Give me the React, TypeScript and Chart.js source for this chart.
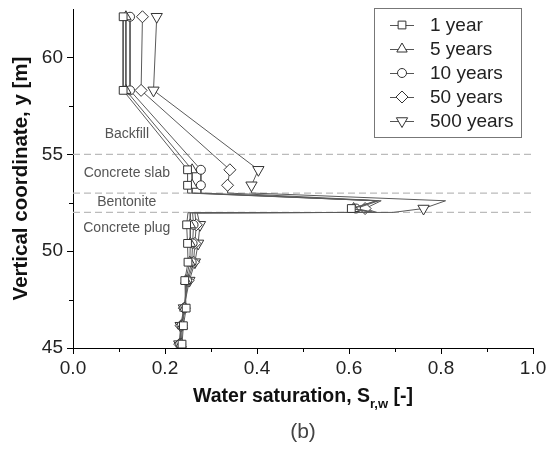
import React, { useEffect, useRef } from 'react';
import { Chart, registerables } from 'chart.js';
import { drawPoint } from 'chart.js/helpers';

Chart.register(...registerables);

// ---- data ----
const depthLevels = [62.1, 58.3, 54.2, 53.4, 53.0, 52.6, 52.2, 52.0, 51.98, 51.36, 50.4, 49.43, 48.48, 47.06, 46.15, 45.2];
const markedLevels = [1, 1, 1, 1, 0, 0, 1, 0, 0, 1, 1, 1, 1, 1, 1, 1];

const sat1yr = [0.109, 0.109, 0.249, 0.249, 0.249, 0.66, 0.605, 0.65, 0.25, 0.247, 0.249, 0.25, 0.243, 0.246, 0.24, 0.237];
const sat5yr = [0.115, 0.115, 0.259, 0.259, 0.259, 0.66, 0.61, 0.65, 0.255, 0.255, 0.255, 0.254, 0.245, 0.243, 0.238, 0.235];
const sat10yr = [0.124, 0.124, 0.278, 0.278, 0.278, 0.665, 0.615, 0.655, 0.26, 0.262, 0.26, 0.258, 0.248, 0.242, 0.236, 0.233];
const sat50yr = [0.151, 0.148, 0.341, 0.336, 0.336, 0.67, 0.635, 0.66, 0.265, 0.268, 0.265, 0.262, 0.25, 0.242, 0.235, 0.232];
const sat500yr = [0.182, 0.175, 0.403, 0.388, 0.388, 0.81, 0.762, 0.696, 0.27, 0.276, 0.272, 0.265, 0.253, 0.241, 0.234, 0.231];

const seriesLabels = ['1 year', '5 years', '10 years', '50 years', '500 years'];
const seriesValues = [sat1yr, sat5yr, sat10yr, sat50yr, sat500yr];
const seriesStyles = ['rect', 'triangle', 'circle', 'rectRot', 'triangle'];
const seriesRotation = [0, 0, 0, 0, 180];
const seriesRadius = [5.5, 6, 4.5, 6, 6.5];

const interfaceLevels = [55, 53, 52];
const layerNames = ['Backfill', 'Concrete slab', 'Bentonite', 'Concrete plug'];
const layerLabelLevels = [56.05, 54.05, 52.55, 51.2];
const layerLabelX = 0.117;

const xMin = 0, xMax = 1, xStep = 0.1;
const yMin = 45, yMax = 62.5, yStep = 2.5;

const yTitle = 'Vertical coordinate, y [m]';
const xTitleMain = 'Water saturation, S';
const xTitleSub = 'r,w';
const xTitleEnd = ' [-]';
const panelLabel = '(b)';

const FONT = '"Liberation Sans", Arial, Helvetica, sans-serif';

const overlayPlugin = {
  id: 'overlay',
  afterDraw(chart: any) {
    const { ctx, chartArea, scales } = chart;
    const xs = scales.x, ys = scales.y;
    ctx.save();

    // minor ticks
    ctx.strokeStyle = '#000';
    ctx.lineWidth = 1;
    ctx.beginPath();
    for (let i = 1; i < 10; i += 2) {
      const px = Math.round(xs.getPixelForValue(i * xStep)) + 0.5;
      ctx.moveTo(px, chartArea.bottom);
      ctx.lineTo(px, chartArea.bottom + 4);
    }
    [47.5, 52.5, 57.5].forEach((v) => {
      const py = Math.round(ys.getPixelForValue(v)) + 0.5;
      ctx.moveTo(chartArea.left - 4, py);
      ctx.lineTo(chartArea.left, py);
    });
    ctx.stroke();

    // layer labels
    ctx.font = `14px ${FONT}`;
    ctx.fillStyle = '#555';
    ctx.textAlign = 'center';
    ctx.textBaseline = 'middle';
    layerNames.forEach((n, i) => {
      ctx.fillText(n, xs.getPixelForValue(layerLabelX), ys.getPixelForValue(layerLabelLevels[i]));
    });

    // y title
    ctx.save();
    ctx.translate(21, (chartArea.top + chartArea.bottom) / 2);
    ctx.rotate(-Math.PI / 2);
    ctx.font = `bold 20.5px ${FONT}`;
    ctx.fillStyle = '#111';
    ctx.textAlign = 'center';
    ctx.textBaseline = 'middle';
    ctx.fillText(yTitle, 0, 0);
    ctx.restore();

    // x title with subscript
    const cx = (chartArea.left + chartArea.right) / 2;
    const ty = 402;
    ctx.textBaseline = 'alphabetic';
    ctx.textAlign = 'left';
    ctx.fillStyle = '#111';
    ctx.font = `bold 19.5px ${FONT}`;
    const w1 = ctx.measureText(xTitleMain).width;
    const w3 = ctx.measureText(xTitleEnd).width;
    ctx.font = `bold 13px ${FONT}`;
    const w2 = ctx.measureText(xTitleSub).width;
    let sx = cx - (w1 + w2 + w3) / 2;
    ctx.font = `bold 19.5px ${FONT}`;
    ctx.fillText(xTitleMain, sx, ty);
    sx += w1;
    ctx.font = `bold 13px ${FONT}`;
    ctx.fillText(xTitleSub, sx, ty + 6);
    sx += w2;
    ctx.font = `bold 19.5px ${FONT}`;
    ctx.fillText(xTitleEnd, sx, ty);

    // panel label
    ctx.font = `21px ${FONT}`;
    ctx.fillStyle = '#444';
    ctx.textAlign = 'center';
    ctx.textBaseline = 'middle';
    ctx.fillText(panelLabel, cx, 432);

    // legend
    const bx = 374.5, by = 8.5, bw = 147, bh = 129;
    ctx.fillStyle = '#fff';
    ctx.fillRect(bx, by, bw, bh);
    ctx.strokeStyle = '#777';
    ctx.lineWidth = 1;
    ctx.strokeRect(bx, by, bw, bh);
    seriesLabels.forEach((lab, i) => {
      const iy = 25 + i * 24;
      ctx.strokeStyle = '#555';
      ctx.lineWidth = 1;
      ctx.beginPath();
      ctx.moveTo(390, iy + 0.5);
      ctx.lineTo(414, iy + 0.5);
      ctx.stroke();
      ctx.fillStyle = '#fff';
      ctx.strokeStyle = '#333';
      drawPoint(ctx, { pointStyle: seriesStyles[i], rotation: seriesRotation[i], radius: seriesRadius[i], borderWidth: 1 } as any, 402, iy);
      ctx.fillStyle = '#222';
      ctx.font = `19px ${FONT}`;
      ctx.textAlign = 'left';
      ctx.textBaseline = 'middle';
      ctx.fillText(lab, 430, iy + 1);
    });

    ctx.restore();
  },
};

export default function App() {
  const canvasRef = useRef<HTMLCanvasElement | null>(null);

  useEffect(() => {
    if (!canvasRef.current) return;

    const dataSets: any[] = seriesValues.map((vals, si) => ({
      label: seriesLabels[si],
      data: vals.map((v, i) => ({ x: v, y: depthLevels[i] })),
      showLine: true,
      borderColor: '#5a5a5a',
      borderWidth: 1,
      pointStyle: seriesStyles[si],
      pointRotation: seriesRotation[si],
      pointRadius: markedLevels.map((m) => (m ? seriesRadius[si] : 0)),
      pointBorderColor: '#333',
      pointBackgroundColor: '#fff',
      pointBorderWidth: 1,
      tension: 0,
      order: 1,
    }));

    interfaceLevels.forEach((lv) => {
      dataSets.push({
        label: 'interface',
        data: [{ x: xMin, y: lv }, { x: xMax, y: lv }],
        showLine: true,
        borderColor: '#bbb',
        borderWidth: 1.3,
        borderDash: [7, 4],
        pointRadius: 0,
        order: 10,
      });
    });

    const chart = new Chart(canvasRef.current, {
      type: 'scatter',
      data: { datasets: dataSets },
      plugins: [overlayPlugin],
      options: {
        animation: false,
        responsive: false,
        devicePixelRatio: 1,
        layout: { padding: { top: 9, right: 13, left: 0, bottom: 0 } },
        plugins: { legend: { display: false }, tooltip: { enabled: false } },
        scales: {
          x: {
            type: 'linear',
            min: xMin,
            max: xMax,
            afterFit: (s: any) => { s.height = 453 - 348; s.paddingLeft = 0; s.paddingRight = 0; },
            border: { display: true, color: '#000', width: 1 },
            grid: {
              drawOnChartArea: false,
              drawTicks: true,
              tickLength: 6,
              tickColor: (c: any) => (Math.round((c.tick?.value ?? 0) * 10) % 2 === 0 ? '#000' : 'rgba(0,0,0,0)'),
            },
            ticks: {
              stepSize: xStep,
              autoSkip: false,
              maxRotation: 0,
              padding: 3,
              color: '#222',
              font: { family: FONT, size: 19 },
              callback: (v: any) => (Math.round(Number(v) * 10) % 2 === 0 ? Number(v).toFixed(1) : ''),
            },
          },
          y: {
            type: 'linear',
            min: yMin,
            max: yMax,
            afterFit: (s: any) => { s.width = 73; s.paddingTop = 0; s.paddingBottom = 0; },
            border: { display: true, color: '#000', width: 1 },
            grid: {
              drawOnChartArea: false,
              drawTicks: true,
              tickLength: 6,
              tickColor: (c: any) => ((c.tick?.value ?? 0) % 5 === 0 ? '#000' : 'rgba(0,0,0,0)'),
            },
            ticks: {
              stepSize: yStep,
              autoSkip: false,
              padding: 4,
              color: '#222',
              font: { family: FONT, size: 19 },
              callback: (v: any) => (Number(v) % 5 === 0 ? String(v) : ''),
            },
          },
        },
      } as any,
    });

    return () => chart.destroy();
  }, []);

  return (
    <div style={{ position: 'fixed', left: 0, top: 0, width: 546, height: 453, background: '#fff' }}>
      <canvas ref={canvasRef} width={546} height={453} style={{ display: 'block' }} />
    </div>
  );
}
